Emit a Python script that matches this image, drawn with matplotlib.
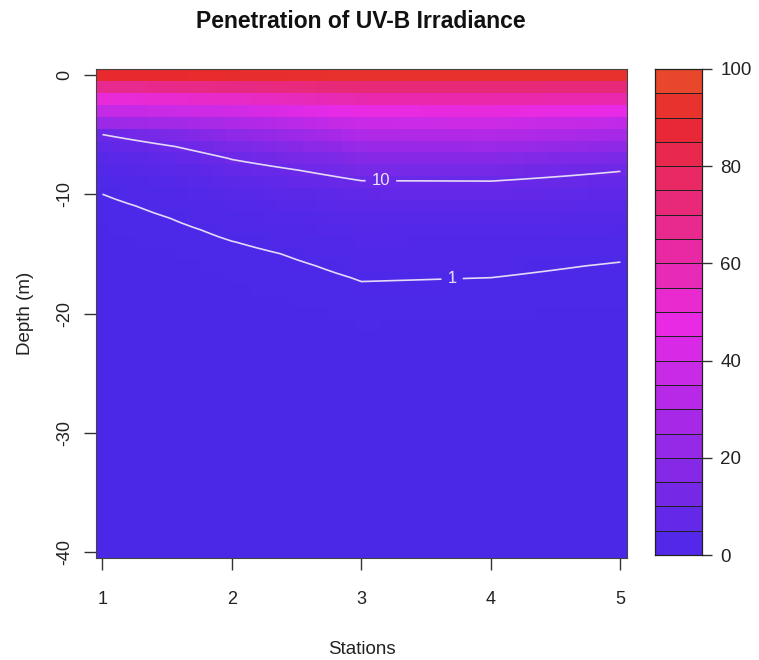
import numpy as np
import matplotlib
matplotlib.use("Agg")
import matplotlib.pyplot as plt
from matplotlib.colors import LinearSegmentedColormap, ListedColormap, BoundaryNorm, Normalize

plt.rcParams['font.family'] = ['Liberation Sans', 'DejaVu Sans']

# stations and depth profiles of UV-B irradiance (% of surface)
stations = [1, 2, 3, 4, 5]
depth_m = [0, 1, 2, 3, 4, 5, 6, 8, 10, 12, 15, 20, 30, 40]
uvb_st1 = [90, 67, 50, 36, 24, 10, 6.5, 2.6, 1.0, 0.5, 0.2, 0.05, 0.01, 0.001]
uvb_st2 = [91, 70, 54, 40, 29, 20, 14, 7.5, 3.7, 1.9, 0.7, 0.2, 0.02, 0.002]
uvb_st3 = [92, 73, 60, 48, 38, 30, 23, 13, 7.0, 4.2, 1.8, 0.5, 0.05, 0.005]
uvb_st4 = [92, 73, 61, 49, 39, 31, 24, 13, 7.2, 4.0, 1.7, 0.45, 0.04, 0.004]
uvb_st5 = [92, 72, 60, 47, 35, 27, 20, 10.2, 6.0, 3.2, 1.2, 0.3, 0.03, 0.003]

contour_levels = [1, 10]
cbar_ticks = [0, 20, 40, 60, 80, 100]
depth_ticks = [0, -10, -20, -30, -40]

# ---- grid the profiles (log-linear) onto a 0.1 station x 1 m raster
xg = np.round(np.arange(1, 5.001, 0.1), 2)
zg = np.arange(0, 41)
logp = np.log(np.array([uvb_st1, uvb_st2, uvb_st3, uvb_st4, uvb_st5]))
prof = np.array([np.interp(zg, depth_m, row) for row in logp])          # 5 x 41
field = np.array([np.interp(xg, stations, prof[:, j]) for j in range(len(zg))])
field = np.exp(field)                                                    # 41 x 41

# ---- palette: smooth ramp for the raster, 20 classes of 5 % for the key
ramp = LinearSegmentedColormap.from_list(
    "uvb", [(0.0, "#4b28e8"), (0.47, "#e82ae6"), (0.9, "#e8282e"), (1.0, "#e8502a")], N=256)
levels = np.arange(0, 101, 5)
cmap = ListedColormap(ramp((levels[:-1] + 2.5) / 100))
norm = BoundaryNorm(levels, cmap.N)

fig = plt.figure(figsize=(7.59, 6.6), dpi=100)
ax = fig.add_axes([0.1265, 0.1545, 0.6995, 0.741])
cax = fig.add_axes([0.863, 0.159, 0.062, 0.7365])

ax.pcolormesh(xg, -zg, field, shading='nearest', cmap=ramp, norm=Normalize(0, 100))
cs = ax.contour(xg, -zg, field, levels=contour_levels, colors='#e4daf6', linewidths=1.2)
ax.clabel(cs, fmt='%d', fontsize=12, colors='#ece6fa', inline=True, inline_spacing=6,
          manual=[(3.15, -8.8), (3.7, -17.1)])

ax.set_xlim(0.95, 5.05)
ax.set_ylim(-40.5, 0.5)
ax.set_xticks(stations)
ax.set_yticks(depth_ticks)
ax.set_yticklabels([str(t) for t in depth_ticks], rotation=90, va='center')
ax.tick_params(axis='x', length=8.5, width=1, pad=15, labelsize=13, colors='#333333', labelcolor='#222222')
ax.tick_params(axis='y', length=8.5, width=1, pad=8, labelsize=13, colors='#333333', labelcolor='#222222')
for s in ax.spines.values():
    s.set_color('#444444')
    s.set_linewidth(0.8)
ax.set_xlabel('Stations', fontsize=13.5, color='#222222', labelpad=24)
ax.set_ylabel('Depth (m)', fontsize=13.5, color='#222222', labelpad=16)
fig.text(0.476, 0.968, 'Penetration of UV-B Irradiance', ha='center', va='center',
         fontsize=16.5, fontweight='bold', color='#111111')

# ---- colour key
cax.pcolormesh([0, 1], levels, ((levels[:-1] + levels[1:]) / 2).reshape(-1, 1),
               cmap=cmap, norm=norm, edgecolors='#222222', linewidth=0.6)
cax.set_xlim(0, 1)
cax.set_ylim(0, 100)
cax.set_xticks([])
cax.yaxis.tick_right()
cax.set_yticks(cbar_ticks)
cax.tick_params(axis='y', length=7, width=1, pad=6, labelsize=13.5, colors='#333333', labelcolor='#222222')
for s in cax.spines.values():
    s.set_color('#222222')
    s.set_linewidth(0.9)

fig.savefig('out.png', dpi=100)
